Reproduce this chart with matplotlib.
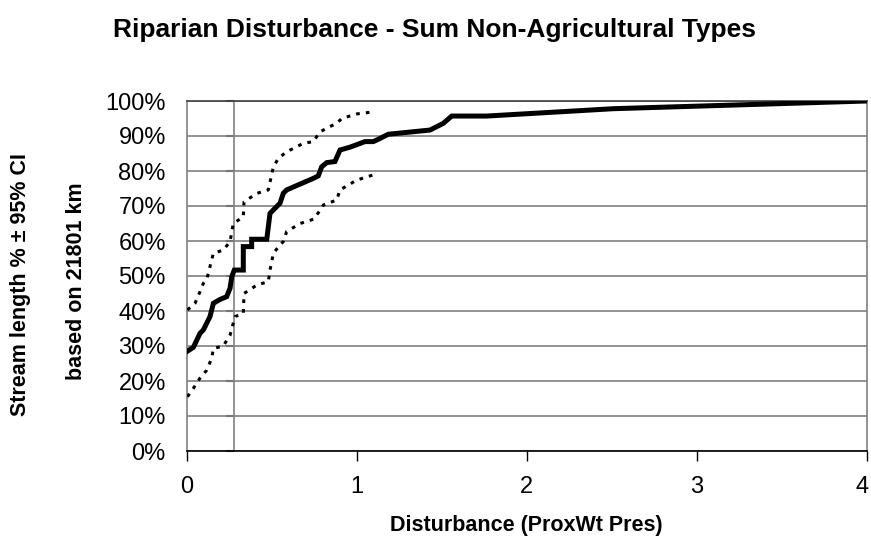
import numpy as np
import matplotlib.pyplot as plt
from matplotlib.ticker import PercentFormatter
from matplotlib.transforms import ScaledTranslation

plt.rcParams['font.family'] = ['Liberation Sans', 'DejaVu Sans']

# cumulative distribution of stream length vs disturbance
estX = [0.0, 0.039, 0.078, 0.098, 0.137, 0.157, 0.196, 0.235, 0.255, 0.265, 0.28,
        0.333, 0.333, 0.382, 0.382, 0.471, 0.49, 0.549, 0.568, 0.588, 0.745, 0.774,
        0.794, 0.824, 0.872, 0.902, 0.96, 1.049, 1.098, 1.137, 1.186, 1.431, 1.509,
        1.559, 1.765, 2.51, 4.0]
estY = [28.4, 29.6, 33.6, 34.6, 38.4, 42.2, 43.3, 44.1, 46.5, 49.8, 51.7,
        51.7, 58.4, 58.4, 60.5, 60.5, 67.9, 70.8, 73.6, 74.6, 77.9, 78.6,
        81.2, 82.4, 82.7, 86.0, 86.8, 88.4, 88.4, 89.3, 90.5, 91.7, 93.6,
        95.7, 95.7, 97.8, 100.0]

upperX = [0.004, 0.049, 0.078, 0.098, 0.118, 0.137, 0.157, 0.215, 0.255, 0.274,
          0.333, 0.337, 0.412, 0.48, 0.51, 0.539, 0.588, 0.686, 0.745, 0.784,
          0.843, 0.882, 0.912, 1.0, 1.098]
upperY = [40.3, 42.2, 45.5, 47.9, 49.0, 52.7, 56.5, 57.4, 59.8, 65.0,
          66.9, 71.2, 73.6, 74.6, 81.2, 83.6, 85.5, 87.9, 88.4, 91.2,
          92.7, 93.6, 95.0, 96.3, 96.9]

lowerX = [0.004, 0.039, 0.078, 0.118, 0.147, 0.157, 0.215, 0.255, 0.284, 0.333,
          0.337, 0.412, 0.48, 0.49, 0.51, 0.549, 0.568, 0.588, 0.667, 0.745,
          0.784, 0.804, 0.882, 0.902, 1.0, 1.098]
lowerY = [15.5, 17.9, 20.8, 23.1, 26.5, 29.3, 30.0, 33.1, 38.4, 39.3,
          45.0, 47.4, 48.4, 51.7, 56.5, 58.9, 59.8, 62.7, 65.0, 66.2,
          68.7, 70.3, 71.7, 74.6, 77.4, 78.9]

refX = 0.277

fig = plt.figure(figsize=(8.71, 5.42), dpi=100)
ax = fig.add_axes([186.7 / 871, 1 - 451 / 542, 680 / 871, 350 / 542])

ax.plot(estX, estY, color='black', lw=3.6, solid_joinstyle='miter', zorder=4)
ax.plot(upperX, upperY, color='black', lw=2.2, dashes=(1.2, 2.0), zorder=3)
ax.plot(lowerX, lowerY, color='black', lw=2.2, dashes=(1.2, 2.0), zorder=3)

ax.set_xlim(0, 4)
ax.set_ylim(0, 100)
ax.set_xticks([0, 1, 2, 3, 4])
ax.set_yticks(np.arange(0, 101, 10))
ax.yaxis.set_major_formatter(PercentFormatter(decimals=0))
ax.yaxis.grid(True, color='#808080', lw=1.2)
ax.set_axisbelow(True)

for side in ['left', 'right', 'top']:
    ax.spines[side].set_color('#808080')
    ax.spines[side].set_linewidth(1.2)
ax.spines['top'].set_color('#404040')
ax.spines['bottom'].set_color('black')
ax.spines['bottom'].set_linewidth(1.2)

ax.tick_params(axis='x', direction='out', length=7, width=1, labelsize=17, pad=11)
ax.tick_params(axis='y', direction='out', length=0, labelsize=17, pad=15)

# keep the last x label inside the figure
fig.canvas.draw()
lastLab = ax.get_xticklabels()[-1]
lastLab.set_transform(lastLab.get_transform() + ScaledTranslation(-5 / 100, 0, fig.dpi_scale_trans))

# vertical reference axis with its own small ticks
sec = ax.secondary_yaxis(refX / 4)
sec.set_yticks(np.arange(0, 101, 10))
sec.tick_params(direction='out', length=6, width=1.5, color='#404040', labelleft=False)
sec.spines['left'].set_color('#808080')
sec.spines['left'].set_linewidth(1.2)

fig.text(434 / 871, 1 - 30 / 542, 'Riparian Disturbance - Sum Non-Agricultural Types',
         ha='center', va='center', fontsize=19, fontweight='bold')
fig.text(526 / 871, 1 - 525 / 542, 'Disturbance (ProxWt Pres)',
         ha='center', va='center', fontsize=15.5, fontweight='bold')
fig.text(21 / 871, 1 - 285 / 542, 'Stream length % \u00b1 95% CI',
         ha='center', va='center', rotation=90, fontsize=15.5, fontweight='bold')
fig.text(76 / 871, 1 - 281 / 542, 'based on 21801 km',
         ha='center', va='center', rotation=90, fontsize=15.5, fontweight='bold')

fig.savefig('out.png', dpi=100)
